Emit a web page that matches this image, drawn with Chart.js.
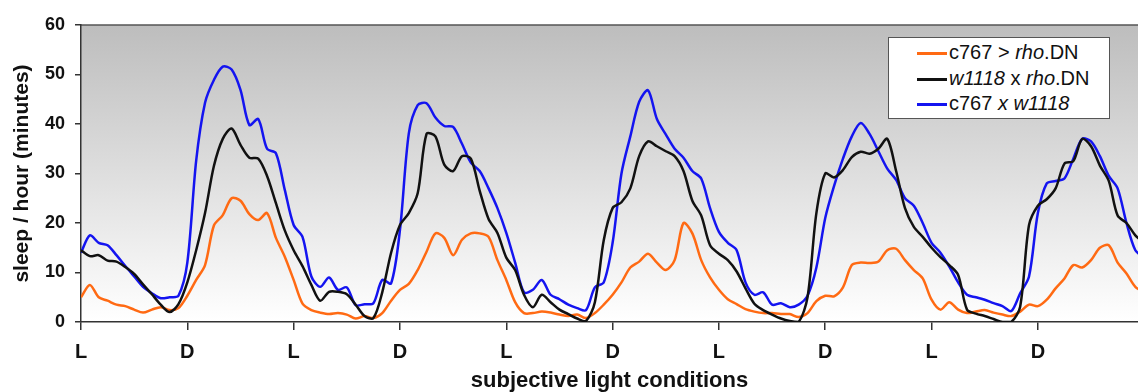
<!DOCTYPE html>
<html>
<head>
<meta charset="utf-8">
<title>sleep / hour</title>
<script src="https://cdn.jsdelivr.net/npm/chart.js@4.4.0/dist/chart.umd.min.js"></script>
<style>
  html, body { margin: 0; padding: 0; background: #fff; }
  #wrap { position: relative; width: 1138px; height: 392px; overflow: hidden; }
  #legend {
    position: absolute; left: 888px; top: 37px; width: 222px; height: 82px;
    box-sizing: border-box; border: 1px solid #555; background: #fff;
    font-family: 'Liberation Sans', Arial, sans-serif; font-size: 20px; color: #111;
    padding-top: 2px;
  }
  #legend .row { display: block; height: 25.5px; line-height: 25.5px; padding-left: 28px; white-space: nowrap; }
  #legend .swatch { display: inline-block; width: 30px; height: 3px; margin-right: 2px; vertical-align: middle; }
</style>
</head>
<body>
<div id="wrap">
  <canvas id="sleepChart" width="1138" height="392"></canvas>
  <div id="legend">
    <div class="row"><span class="swatch" style="background:#ff6a13"></span>c767 &gt; <i>rho</i>.DN</div>
    <div class="row"><span class="swatch" style="background:#111"></span><i>w1118</i> x <i>rho</i>.DN</div>
    <div class="row"><span class="swatch" style="background:#1414f0"></span>c767 <i>x w1118</i></div>
  </div>
</div>
<script>
// hours since start of recording (hourly bins)
const HOURS = Array.from({ length: 121 }, (_, i) => i);
const X_MAX = 119.3;

// light / dark markers every 12 h
const TICK_HOURS = [0, 12, 24, 36, 48, 60, 72, 84, 96, 108];
const TICK_LABELS = ['L', 'D', 'L', 'D', 'L', 'D', 'L', 'D', 'L', 'D'];

// sleep per hour (minutes)
const RHO_DN = [
  5, 7.5, 5, 4.3, 3.5, 3.2, 2.5, 1.9, 2.5, 3.0,
  2.4, 2.8, 5.3, 8.5, 11.5, 19.5, 21.6, 25, 24.5, 21.8,
  20.6, 22, 17, 13.2, 8.5, 3.7, 2.4, 1.9, 1.6, 1.8,
  1.5, 0.7, 1.2, 0.8, 1.8, 4.3, 6.5, 7.7, 10.5, 14.2,
  17.9, 17, 13.5, 16.6, 17.9, 17.9, 17.2, 12.5, 8.5, 4,
  1.8, 1.8, 2.1, 1.9, 1.5, 1.2, 1.5, 0.8, 1.8, 3.5,
  5.5, 8, 11, 12.2, 13.8, 12, 10.5, 12.5, 20, 17.9,
  12.5, 9, 6.5, 4.6, 3.6, 2.6, 2.1, 1.8, 1.8, 1.6,
  1.6, 1.0, 1.8, 4.2, 5.3, 5.2, 7, 11.5, 12, 11.9,
  12.2, 14.5, 14.8, 12.5, 10.5, 8.8, 4.5, 2.5, 4, 2.5,
  1.8, 2.1, 2.4, 1.9, 1.5, 1.2, 2.1, 3.5, 3.2, 4.5,
  6.8, 8.8, 11.5, 11, 12.5, 15, 15.5, 12, 9.8, 7.1, 6
];
const W1118_RHO = [
  14.5, 13.3, 13.5, 12.4, 12.2, 11.1, 9.7, 7.6, 5.6, 3.5,
  2.0, 3.6, 8, 14.5, 22, 31.5, 37, 39.1, 35.8, 33.2,
  33, 29.5, 24, 18.5, 14.5, 11.3, 7.5, 4.3, 6.1, 6.1,
  5.6, 3.5, 1.2, 0.8, 6, 14, 19.6, 22, 26, 38,
  37.5, 31.8, 30.5, 33.5, 33, 26.5, 20.8, 18, 13, 10.5,
  5.5, 3, 5.5, 4, 2.5, 1.6, 0.7, 0.2, 4, 16.5,
  23, 24.2, 27, 33.5, 36.5, 35.5, 34.5, 33.5, 30.5, 24.5,
  21.5, 15.5, 13.8, 12.5, 10.2, 6.8, 3.7, 2.4, 1.5, 0.7,
  0.2, 0, 5, 22, 30, 29.2, 30.7, 33.3, 34.4, 34,
  35, 37, 30.5, 23, 19.2, 17.2, 15, 13.1, 11.5, 9.5,
  2.5, 1.7, 1.2, 0.6, 0, 0, 3.1, 19.6, 23.5, 24.8,
  27, 32, 32.5, 37, 35.5, 31.6, 28.5, 21.5, 20, 17.5, 16
];
const C767_W1118 = [
  14, 17.5, 16, 15.5, 13.5, 11.3, 9.2, 7.1, 5.8, 4.8,
  5.0, 5.3, 12, 32.6, 44.3, 48.9, 51.6, 51, 46.9, 39.8,
  41, 35, 34.1, 26.7, 19.6, 17.2, 9.2, 7.1, 9, 6.5,
  7, 3.4, 3.6, 3.8, 8.5, 7.8, 18.6, 38.1, 43.8, 44.2,
  41.3, 39.6, 39.4, 36, 32.2, 30.5, 27, 23, 18, 12,
  6, 6.5, 8.5, 5.5, 4.6, 3.5, 2.8, 2.4, 7, 8,
  16, 30, 37.5, 44.5, 46.8, 41, 37.9, 35, 33.2, 30.5,
  29, 23, 18.2, 16, 14.5, 8, 5.5, 6, 3.5, 3.8,
  3, 3.5, 5.3, 11, 21, 27.5, 33, 37.5, 40.2, 38,
  34.5, 31, 28.7, 25, 23.5, 20, 16, 14, 11.2, 8,
  5.5, 5, 4.5, 3.8, 3.2, 2.2, 5.8, 9.2, 22, 28,
  28.5, 29, 33, 37, 36.5, 33.5, 29.5, 27, 20, 14.5, 13
];

const FONT = "'Liberation Sans', Arial, sans-serif";

// grey-to-white plot background and the thin top frame line
const plotBackground = {
  id: 'plotBackground',
  beforeDraw(chart) {
    const { ctx, chartArea: a } = chart;
    const g = ctx.createLinearGradient(0, a.top, 0, a.bottom);
    g.addColorStop(0, '#bdbdbd');
    g.addColorStop(1, '#ffffff');
    ctx.save();
    ctx.fillStyle = g;
    ctx.fillRect(a.left, a.top, a.right - a.left, a.bottom - a.top);
    ctx.strokeStyle = '#555';
    ctx.lineWidth = 1.5;
    ctx.beginPath();
    ctx.moveTo(a.left, a.top);
    ctx.lineTo(a.right, a.top);
    ctx.stroke();
    ctx.restore();
  }
};

const series = (label, data, color) => ({
  label,
  data: data.map((v, i) => ({ x: HOURS[i], y: v })),
  borderColor: color,
  borderWidth: 2.5,
  pointRadius: 0,
  tension: 0.3,
  fill: false
});

new Chart(document.getElementById('sleepChart'), {
  type: 'line',
  data: {
    datasets: [
      series('w1118 x rho.DN', W1118_RHO, '#111111'),
      series('c767 x w1118', C767_W1118, '#1414f0'),
      series('c767 > rho.DN', RHO_DN, '#ff6a13')
    ]
  },
  options: {
    responsive: false,
    animation: false,
    layout: { padding: { top: 25, right: 0, bottom: 0, left: 0 } },
    plugins: { legend: { display: false }, tooltip: { enabled: false } },
    scales: {
      x: {
        type: 'linear',
        min: 0,
        max: X_MAX,
        afterBuildTicks: s => { s.ticks = TICK_HOURS.map(v => ({ value: v })); },
        afterFit: s => { s.height = 70; },
        ticks: {
          autoSkip: false,
          maxRotation: 0,
          padding: 10,
          color: '#111',
          font: { family: FONT, size: 20, weight: 'bold' },
          callback: v => TICK_LABELS[TICK_HOURS.indexOf(v)]
        },
        grid: { drawOnChartArea: false, tickLength: 8, color: '#333', lineWidth: 1.5 },
        border: { color: '#333', width: 1.5 },
        title: {
          display: true,
          text: 'subjective light conditions',
          color: '#111',
          font: { family: FONT, size: 22, weight: 'bold', lineHeight: 1 },
          padding: { top: 0, bottom: 0 }
        }
      },
      y: {
        min: 0,
        max: 60,
        afterFit: s => { s.width = 81; },
        ticks: {
          stepSize: 10,
          padding: 10,
          color: '#111',
          font: { family: FONT, size: 18, weight: 'bold' }
        },
        grid: { drawOnChartArea: false, tickLength: 6, color: '#333', lineWidth: 1.5 },
        border: { color: '#333', width: 1.5 },
        title: {
          display: true,
          text: 'sleep / hour (minutes)',
          color: '#111',
          font: { family: FONT, size: 21, weight: 'bold', lineHeight: 1 },
          padding: { top: 12, bottom: 0 }
        }
      }
    }
  },
  plugins: [plotBackground]
});
</script>
</body>
</html>
